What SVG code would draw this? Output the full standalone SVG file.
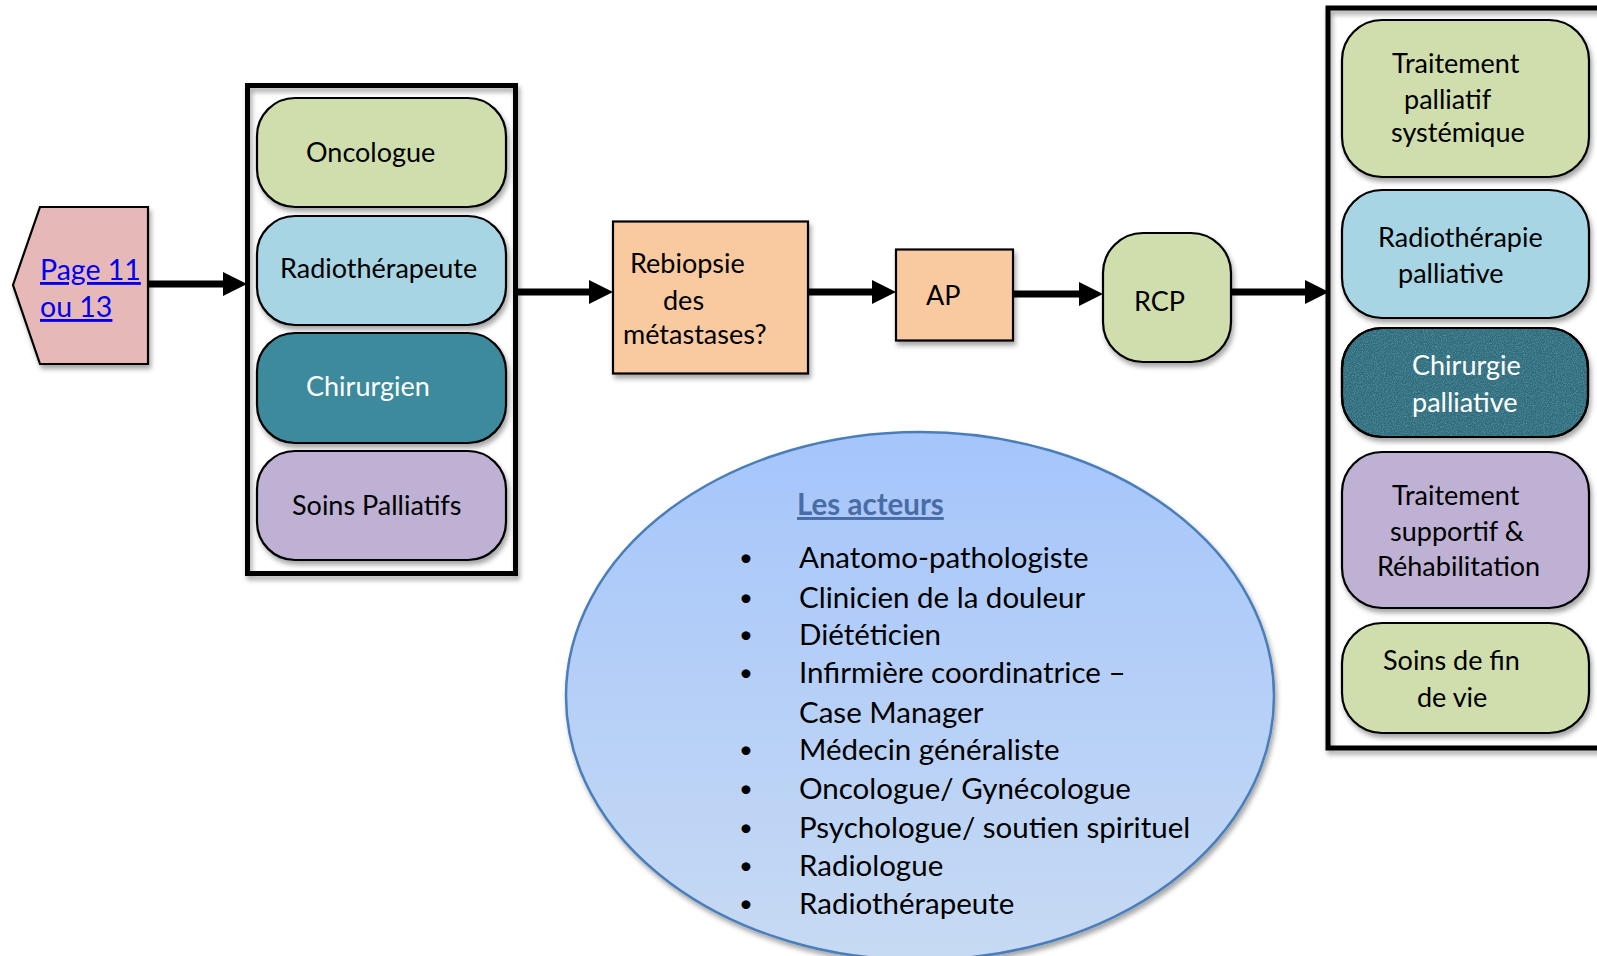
<svg xmlns="http://www.w3.org/2000/svg" width="1597" height="956" viewBox="0 0 1597 956">
  <defs>
    <style>
      text { font-family: Lato, "Liberation Sans", sans-serif; fill: #000; }
      .lbl { font-size: 27px; }
      .item { font-size: 29.5px; }
      .dot { font-size: 24px; }
      .white { fill: #fff; }
      .frame { fill: none; stroke: #000; stroke-width: 5; }
      .box { stroke: #000; stroke-width: 2.2; }
      .green { fill: #d0ddac; }
      .blue { fill: #a7d5e3; }
      .teal { fill: #3c8a9d; }
      .dteal { fill: #2e6c7c; }
      .lilac { fill: #bfb1d3; }
      .peach { fill: #f9c9a0; }
      .link { fill: #0000ee; font-size: 28.5px; text-decoration: underline; }
      .conn { stroke: #000; stroke-width: 7; fill: none; marker-end: url(#head); }
    </style>
    <filter id="shadow" x="-10%" y="-10%" width="125%" height="130%">
      <feDropShadow dx="2" dy="4" stdDeviation="2.5" flood-color="#000" flood-opacity="0.35"/>
    </filter>
    <filter id="grain" x="0" y="0" width="100%" height="100%">
      <feTurbulence type="fractalNoise" baseFrequency="0.9" numOctaves="2" seed="3" result="n"/>
      <feColorMatrix in="n" type="matrix" values="0 0 0 0 0.35  0 0 0 0 0.6  0 0 0 0 0.68  0 0 0 1.4 -0.55" result="g"/>
      <feComposite in="g" in2="SourceGraphic" operator="in"/>
    </filter>
    <linearGradient id="bubble" x1="0" y1="0" x2="0" y2="1">
      <stop offset="0" stop-color="#a5c5fb"/>
      <stop offset="1" stop-color="#c7daf3"/>
    </linearGradient>
    <marker id="head" markerUnits="userSpaceOnUse" markerWidth="24" markerHeight="24" viewBox="0 0 24 24" refX="4" refY="12" orient="auto">
      <path d="M0,0 L24,12 L0,24 Z" fill="#000"/>
    </marker>
  </defs>

  <rect width="1597" height="956" fill="#fff"/>

  <!-- entry link -->
  <g id="start">
    <polygon points="13,285 40,207 148,207 148,364 40,364" fill="#e6b9b8" stroke="#000" stroke-width="2.2" filter="url(#shadow)"/>
    <text class="link" x="40" y="280">Page 11</text>
    <text class="link" x="40" y="317">ou 13</text>
  </g>

  <!-- specialists group -->
  <g id="specialists">
    <rect class="frame" x="247.5" y="85.5" width="268" height="488" filter="url(#shadow)"/>
    <g id="oncologue">
      <rect class="box green" x="257" y="98" width="249" height="109" rx="38" filter="url(#shadow)"/>
      <text class="lbl" x="306" y="162">Oncologue</text>
    </g>
    <g id="radiotherapeute">
      <rect class="box blue" x="257" y="216" width="249" height="109" rx="38" filter="url(#shadow)"/>
      <text class="lbl" x="280" y="278">Radiothérapeute</text>
    </g>
    <g id="chirurgien">
      <rect class="box teal" x="257" y="333" width="249" height="110" rx="38" filter="url(#shadow)"/>
      <text class="lbl white" x="306" y="396">Chirurgien</text>
    </g>
    <g id="soins-palliatifs">
      <rect class="box lilac" x="257" y="451" width="249" height="109" rx="38" filter="url(#shadow)"/>
      <text class="lbl" x="292" y="515">Soins Palliatifs</text>
    </g>
  </g>

  <!-- process steps -->
  <g id="rebiopsie">
    <rect class="box peach" x="613" y="221.5" width="195" height="152" filter="url(#shadow)"/>
    <text class="lbl" x="630" y="273">Rebiopsie</text>
    <text class="lbl" x="663" y="310">des</text>
    <text class="lbl" x="623" y="344">métastases?</text>
  </g>
  <g id="ap">
    <rect class="box peach" x="896" y="249.5" width="117" height="91" filter="url(#shadow)"/>
    <text class="lbl" x="926" y="305">AP</text>
  </g>
  <g id="rcp">
    <rect class="box green" x="1103" y="233" width="128" height="129" rx="40" filter="url(#shadow)"/>
    <text class="lbl" x="1134" y="311">RCP</text>
  </g>

  <!-- treatment options -->
  <g id="treatments">
    <rect class="frame" x="1328" y="8" width="290" height="740" filter="url(#shadow)"/>
    <g id="traitement-palliatif">
      <rect class="box green" x="1342" y="20" width="247" height="157" rx="40" filter="url(#shadow)"/>
      <text class="lbl" x="1392" y="73">Traitement</text>
      <text class="lbl" x="1404" y="109">palliatif</text>
      <text class="lbl" x="1391" y="142">systémique</text>
    </g>
    <g id="radiotherapie-palliative">
      <rect class="box blue" x="1342" y="190" width="247" height="128" rx="40" filter="url(#shadow)"/>
      <text class="lbl" x="1378" y="247">Radiothérapie</text>
      <text class="lbl" x="1398" y="283">palliative</text>
    </g>
    <g id="chirurgie-palliative">
      <rect class="box dteal" x="1342" y="328" width="246" height="109" rx="40" filter="url(#shadow)"/>
      <rect x="1343" y="329" width="244" height="107" rx="39" fill="#2e6c7c" filter="url(#grain)" opacity="0.6"/>
      <rect x="1342" y="328" width="246" height="109" rx="40" fill="none" stroke="#000" stroke-width="2.2"/>
      <text class="lbl white" x="1412" y="375">Chirurgie</text>
      <text class="lbl white" x="1412" y="412">palliative</text>
    </g>
    <g id="traitement-supportif">
      <rect class="box lilac" x="1342" y="452" width="247" height="156" rx="40" filter="url(#shadow)"/>
      <text class="lbl" x="1392" y="505">Traitement</text>
      <text class="lbl" x="1390" y="541">supportif &amp;</text>
      <text class="lbl" x="1377" y="576">Réhabilitation</text>
    </g>
    <g id="soins-fin-de-vie">
      <rect class="box green" x="1342" y="623" width="247" height="110" rx="40" filter="url(#shadow)"/>
      <text class="lbl" x="1383" y="670">Soins de fin</text>
      <text class="lbl" x="1417" y="707">de vie</text>
    </g>
  </g>

  <!-- actors bubble -->
  <g id="acteurs">
    <ellipse cx="920" cy="696" rx="354" ry="264" fill="url(#bubble)" stroke="#4a7ebb" stroke-width="2.5" filter="url(#shadow)"/>
    <text x="797" y="515" font-size="29.5px" font-weight="bold" text-decoration="underline" style="fill:#4a6ca6">Les acteurs</text>
    <g class="item">
      <text class="dot" x="739" y="566">•</text><text x="799" y="568">Anatomo-pathologiste</text>
      <text class="dot" x="739" y="606">•</text><text x="799" y="608">Clinicien de la douleur</text>
      <text class="dot" x="739" y="643">•</text><text x="799" y="645">Diététicien</text>
      <text class="dot" x="739" y="681">•</text><text x="799" y="683">Infirmière coordinatrice –</text>
      <text x="799" y="723">Case Manager</text>
      <text class="dot" x="739" y="758">•</text><text x="799" y="760">Médecin généraliste</text>
      <text class="dot" x="739" y="797">•</text><text x="799" y="799">Oncologue/ Gynécologue</text>
      <text class="dot" x="739" y="836">•</text><text x="799" y="838">Psychologue/ soutien spirituel</text>
      <text class="dot" x="739" y="874">•</text><text x="799" y="876">Radiologue</text>
      <text class="dot" x="739" y="912">•</text><text x="799" y="914">Radiothérapeute</text>
    </g>
  </g>

  <!-- connectors -->
  <g id="connectors">
    <line class="conn" x1="148" y1="284" x2="227" y2="284"/>
    <line class="conn" x1="516" y1="292" x2="593" y2="292"/>
    <line class="conn" x1="808" y1="292" x2="876" y2="292"/>
    <line class="conn" x1="1013" y1="294" x2="1083" y2="294"/>
    <line class="conn" x1="1231" y1="292" x2="1309" y2="292"/>
  </g>
</svg>
